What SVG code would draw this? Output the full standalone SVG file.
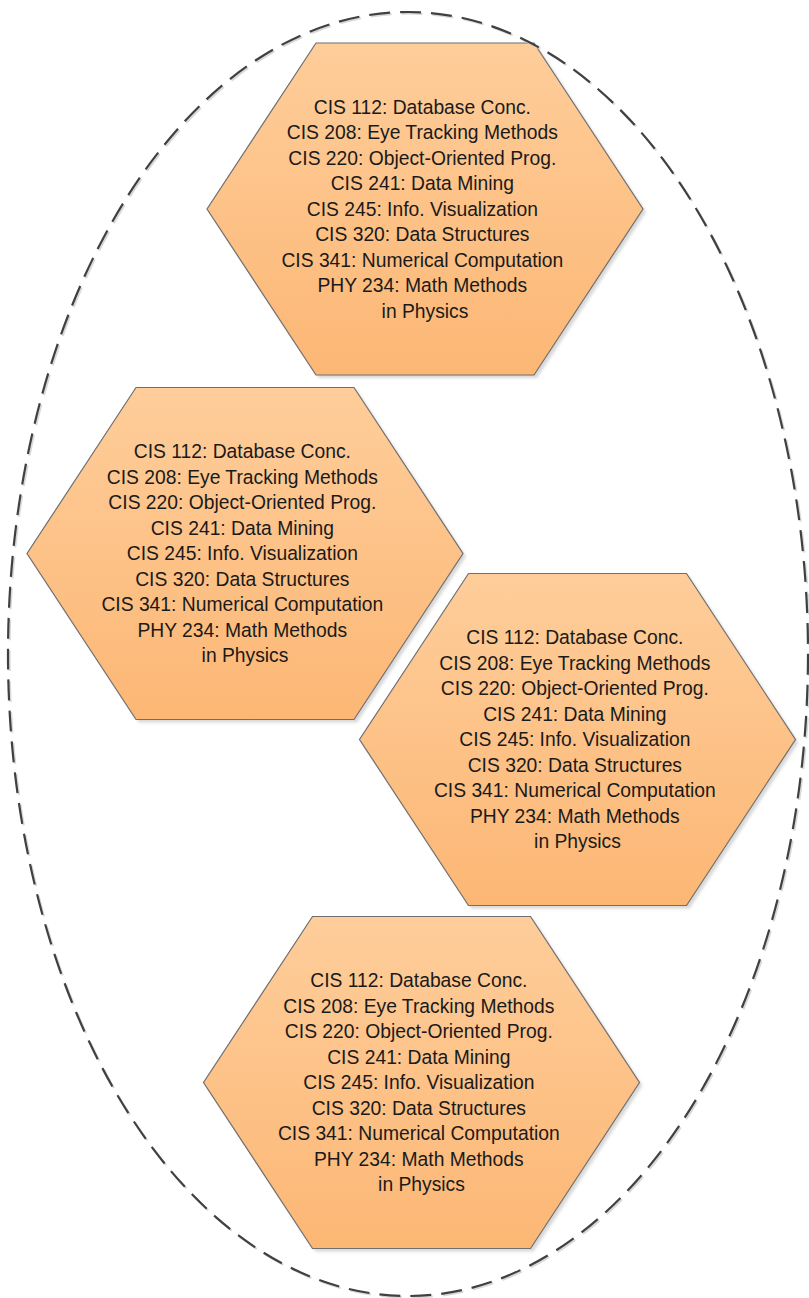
<svg xmlns="http://www.w3.org/2000/svg" width="809" height="1298" viewBox="0 0 809 1298">
<defs>
<linearGradient id="hexFill" x1="0" y1="0" x2="0" y2="1">
<stop offset="0" stop-color="#FECD9A"/>
<stop offset="1" stop-color="#FCB775"/>
</linearGradient>
<filter id="shadow" x="-10%" y="-10%" width="125%" height="125%">
<feGaussianBlur stdDeviation="1.5"/>
</filter>
<polygon id="hexShape" points="-109,-166 109,-166 218,0 109,166 -109,166 -218,0"/>
</defs>
<style>
.shadow { fill: #bdbdbd; opacity: 0.6; filter: url(#shadow); }
.hex { fill: url(#hexFill); stroke: #6f6f6f; stroke-width: 1.2; }
.label { font-family: "Liberation Sans", Arial, sans-serif; font-size: 19.3px; fill: #1a1a1a; text-anchor: middle; }
.outline { fill: none; stroke: #404040; stroke-width: 2.2; stroke-dasharray: 21 10; }
.outline-shadow { fill: none; stroke: #d9d9d9; stroke-width: 2.2; stroke-dasharray: 21 10; }
</style>

<g id="hex1" transform="translate(425,209)">
<use href="#hexShape" class="shadow" transform="translate(3,3)"/>
<use href="#hexShape" class="hex"/>
<text class="label">
<tspan x="0" y="-95.5">CIS 112: Database Conc.</tspan>
<tspan x="0" y="-70">CIS 208: Eye Tracking Methods</tspan>
<tspan x="0" y="-44.5">CIS 220: Object-Oriented Prog.</tspan>
<tspan x="0" y="-19">CIS 241: Data Mining</tspan>
<tspan x="0" y="6.5">CIS 245: Info. Visualization</tspan>
<tspan x="0" y="32">CIS 320: Data Structures</tspan>
<tspan x="0" y="57.5">CIS 341: Numerical Computation</tspan>
<tspan x="0" y="83">PHY 234: Math Methods</tspan>
<tspan x="0" y="108.5">in Physics</tspan>
</text>
</g>

<g id="hex2" transform="translate(245,553.5)">
<use href="#hexShape" class="shadow" transform="translate(3,3)"/>
<use href="#hexShape" class="hex"/>
<text class="label">
<tspan x="0" y="-95.5">CIS 112: Database Conc.</tspan>
<tspan x="0" y="-70">CIS 208: Eye Tracking Methods</tspan>
<tspan x="0" y="-44.5">CIS 220: Object-Oriented Prog.</tspan>
<tspan x="0" y="-19">CIS 241: Data Mining</tspan>
<tspan x="0" y="6.5">CIS 245: Info. Visualization</tspan>
<tspan x="0" y="32">CIS 320: Data Structures</tspan>
<tspan x="0" y="57.5">CIS 341: Numerical Computation</tspan>
<tspan x="0" y="83">PHY 234: Math Methods</tspan>
<tspan x="0" y="108.5">in Physics</tspan>
</text>
</g>

<g id="hex3" transform="translate(577.5,739.5)">
<use href="#hexShape" class="shadow" transform="translate(3,3)"/>
<use href="#hexShape" class="hex"/>
<text class="label">
<tspan x="0" y="-95.5">CIS 112: Database Conc.</tspan>
<tspan x="0" y="-70">CIS 208: Eye Tracking Methods</tspan>
<tspan x="0" y="-44.5">CIS 220: Object-Oriented Prog.</tspan>
<tspan x="0" y="-19">CIS 241: Data Mining</tspan>
<tspan x="0" y="6.5">CIS 245: Info. Visualization</tspan>
<tspan x="0" y="32">CIS 320: Data Structures</tspan>
<tspan x="0" y="57.5">CIS 341: Numerical Computation</tspan>
<tspan x="0" y="83">PHY 234: Math Methods</tspan>
<tspan x="0" y="108.5">in Physics</tspan>
</text>
</g>

<g id="hex4" transform="translate(421.5,1082.5)">
<use href="#hexShape" class="shadow" transform="translate(3,3)"/>
<use href="#hexShape" class="hex"/>
<text class="label">
<tspan x="0" y="-95.5">CIS 112: Database Conc.</tspan>
<tspan x="0" y="-70">CIS 208: Eye Tracking Methods</tspan>
<tspan x="0" y="-44.5">CIS 220: Object-Oriented Prog.</tspan>
<tspan x="0" y="-19">CIS 241: Data Mining</tspan>
<tspan x="0" y="6.5">CIS 245: Info. Visualization</tspan>
<tspan x="0" y="32">CIS 320: Data Structures</tspan>
<tspan x="0" y="57.5">CIS 341: Numerical Computation</tspan>
<tspan x="0" y="83">PHY 234: Math Methods</tspan>
<tspan x="0" y="108.5">in Physics</tspan>
</text>
</g>

<g id="connectors">
<ellipse class="outline-shadow" cx="409.5" cy="655.5" rx="400" ry="642"/>
<ellipse id="group-outline" class="outline" cx="408" cy="654" rx="400" ry="642"/>
</g>
</svg>
